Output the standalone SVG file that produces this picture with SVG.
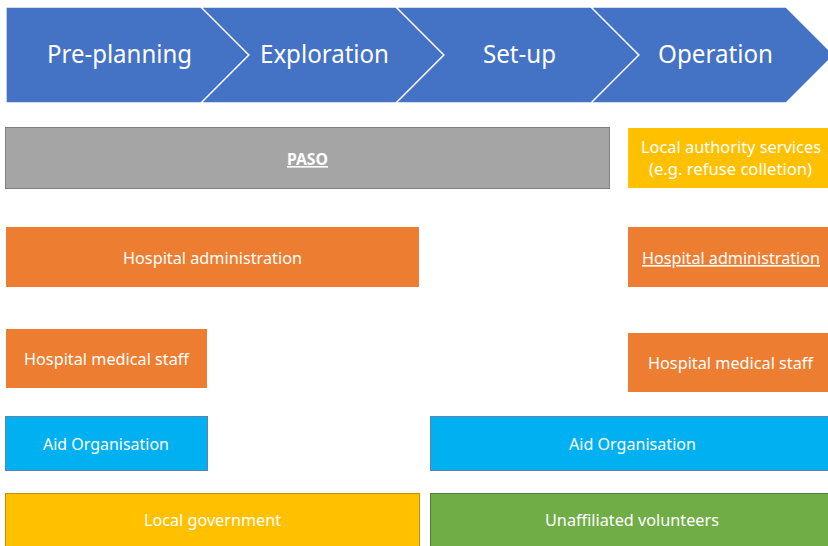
<svg xmlns="http://www.w3.org/2000/svg" width="828" height="546" viewBox="0 0 828 546">
  <style>
    .phase { fill: #4472C4; stroke: #FFFFFF; stroke-width: 1.3; }
    .phase-label { font-family: "Noto Sans", "Open Sans", sans-serif; font-size: 25px; fill: #FFFFFF; text-anchor: middle; }
    .label { font-family: "Noto Sans", "Open Sans", sans-serif; font-size: 16px; fill: #FFFFFF; text-anchor: middle; }
    .bold { font-weight: bold; }
    .ul { text-decoration: underline; }
    .grey { fill: #A5A5A5; stroke: #7F7F7F; stroke-width: 1; }
    .orange { fill: #ED7D31; }
    .gold { fill: #FFC000; }
    .gold-edged { fill: #FFC000; stroke: #BF9000; stroke-width: 1; }
    .cyan { fill: #00B0F0; stroke: #5E84A8; stroke-width: 1; }
    .green { fill: #70AD47; stroke: #507E32; stroke-width: 1; }
  </style>

  <!-- Phase chevrons -->
  <g id="phase-preplanning">
    <polygon class="phase" points="6,7 201,7 249,55 201,103 6,103"/>
    <text class="phase-label" x="119.5" y="63" textLength="145" lengthAdjust="spacingAndGlyphs">Pre-planning</text>
  </g>
  <g id="phase-exploration">
    <polygon class="phase" points="201,7 396,7 444,55 396,103 201,103 249,55"/>
    <text class="phase-label" x="324.5" y="63" textLength="129" lengthAdjust="spacingAndGlyphs">Exploration</text>
  </g>
  <g id="phase-setup">
    <polygon class="phase" points="396,7 591,7 639,55 591,103 396,103 444,55"/>
    <text class="phase-label" x="519.5" y="63" textLength="73" lengthAdjust="spacingAndGlyphs">Set-up</text>
  </g>
  <g id="phase-operation">
    <polygon class="phase" points="591,7 786,7 834,55 786,103 591,103 639,55"/>
    <text class="phase-label" x="715.5" y="63" textLength="115" lengthAdjust="spacingAndGlyphs">Operation</text>
  </g>

  <!-- Stakeholder bars -->
  <g id="paso">
    <rect class="grey" x="5.5" y="127.5" width="604" height="61"/>
    <text class="label bold ul" x="307.5" y="165" textLength="41" lengthAdjust="spacingAndGlyphs">PASO</text>
  </g>
  <g id="local-authority-services">
    <rect class="gold" x="628" y="128" width="200" height="60"/>
    <text class="label" x="731" y="153" textLength="180" lengthAdjust="spacingAndGlyphs">Local authority services</text>
    <text class="label" x="730.5" y="174.5" textLength="163" lengthAdjust="spacingAndGlyphs">(e.g. refuse colletion)</text>
  </g>

  <g id="hospital-administration-early">
    <rect class="orange" x="6" y="227" width="413" height="60"/>
    <text class="label" x="212.5" y="264" textLength="179" lengthAdjust="spacingAndGlyphs">Hospital administration</text>
  </g>
  <g id="hospital-administration-operation">
    <rect class="orange" x="628" y="227" width="200" height="60"/>
    <text class="label ul" x="731" y="264" textLength="178" lengthAdjust="spacingAndGlyphs">Hospital administration</text>
  </g>

  <g id="hospital-medical-staff-early">
    <rect class="orange" x="6" y="329" width="201" height="59"/>
    <text class="label" x="106.5" y="365" textLength="165" lengthAdjust="spacingAndGlyphs">Hospital medical staff</text>
  </g>
  <g id="hospital-medical-staff-operation">
    <rect class="orange" x="628" y="333" width="200" height="59"/>
    <text class="label" x="730.5" y="369" textLength="165" lengthAdjust="spacingAndGlyphs">Hospital medical staff</text>
  </g>

  <g id="aid-organisation-early">
    <rect class="cyan" x="5.5" y="416.5" width="202" height="54"/>
    <text class="label" x="106" y="449.5" textLength="126" lengthAdjust="spacingAndGlyphs">Aid Organisation</text>
  </g>
  <g id="aid-organisation-late">
    <rect class="cyan" x="430.5" y="416.5" width="398" height="54"/>
    <text class="label" x="632.5" y="449.5" textLength="127" lengthAdjust="spacingAndGlyphs">Aid Organisation</text>
  </g>

  <g id="local-government">
    <rect class="gold-edged" x="5.5" y="493.5" width="414" height="60"/>
    <text class="label" x="212.5" y="525.5" textLength="137" lengthAdjust="spacingAndGlyphs">Local government</text>
  </g>
  <g id="unaffiliated-volunteers">
    <rect class="green" x="430.5" y="493.5" width="398" height="60"/>
    <text class="label" x="632" y="525.5" textLength="174" lengthAdjust="spacingAndGlyphs">Unaffiliated volunteers</text>
  </g>
</svg>
